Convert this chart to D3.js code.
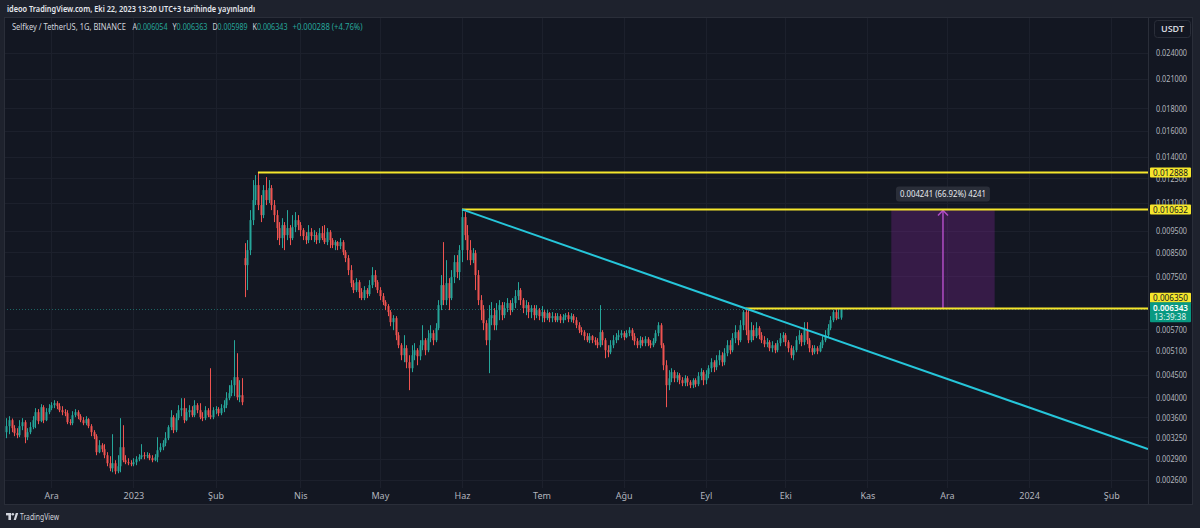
<!DOCTYPE html>
<html><head><meta charset="utf-8">
<script src="https://cdn.jsdelivr.net/npm/d3@7"></script>
<style>
html,body{margin:0;padding:0;background:#1e222d;}
svg{display:block;font-family:"Noto Sans",Roboto,"DejaVu Sans",sans-serif;}
</style></head>
<body><svg id="chart" width="1200" height="528"></svg>
<script>
// ---------------- DATA (prices in micro-USDT, i.e. ×1e-6 USDT) ----------------
const startDate = "2022-11-14";      // first daily bar
const gapIndex = 90;                 // first bar after the missing stretch
const gapResumeDate = "2023-03-11";  // date of bar gapIndex
const firstOpen = 3335;
const gapOpen = 8250;

const closes = [
3441,3550,3405,3318,3283,3441,3513,3249,3335,3423,
3550,3701,3532,3798,3550,3701,3779,3838,3878,3818,
3739,3701,3681,3513,3495,3643,3701,3624,3550,3495,
3568,3441,3335,3266,3005,3116,3052,2958,2837,2764,
2837,2721,2793,3084,2882,2852,2837,2823,2852,2897,
2927,2958,2943,2958,2912,2882,2927,3036,3084,3149,
3232,3423,3606,3370,3587,3739,3779,3550,3701,3739,
3643,3838,3739,3606,3587,3739,3643,3606,3739,3759,
3681,3779,3838,3980,4086,4259,4441,4001,4043,3898,
7956,8602,10056,11162,12068,10875,10322,11757,11162,11880,
10875,10322,9647,9157,9799,9300,9647,9157,9697,10056,
9799,9545,9252,9062,9447,9252,9300,9062,9398,9157,
8969,9447,9062,8829,8969,8784,8969,8513,8251,7752,
7245,6986,7282,6914,6701,6986,6842,7169,7553,7282,
6986,6771,6563,6428,6230,5912,6037,5525,5244,4978,
5163,4800,4652,4978,5109,4952,5244,5383,5109,5440,
5584,5383,5730,6461,7169,6631,7245,6701,7475,8081,
7673,8602,10216,9300,8602,8165,8469,7553,6631,6295,
5882,5383,6037,6132,5820,6295,6461,6132,6361,6529,
6295,6529,6771,6986,6631,6361,6461,6230,6361,6132,
6295,6100,6230,6037,6197,6037,6100,5974,6100,5974,
6068,6132,6005,6100,5974,5820,5671,5613,5496,5383,
5496,5383,5327,5244,5613,5383,5109,5056,5244,5383,
5468,5525,5584,5468,5584,5671,5496,5355,5244,5383,
5300,5411,5300,5244,5355,5584,5820,5244,4725,4259,
4415,4558,4415,4487,4371,4304,4415,4326,4259,4371,
4281,4464,4558,4371,4510,4652,4800,4677,4850,4978,
4800,5030,5244,5109,5440,5613,5383,5820,6230,5671,
5383,5671,5496,5730,5525,5383,5272,5327,5163,5244,
5109,5300,5440,5525,5327,5163,4978,5109,5383,5525,
5327,5671,5383,5163,5056,5163,5083,5244,5383,5525,
5730,5974,6230,6037,6054,6343];

const highs = [
3587,3624,3580,3458,3405,3550,3587,3550,3405,3513,
3624,3779,3760,3858,3838,3779,3858,3898,3939,3919,
3878,3818,3759,3739,3568,3720,3759,3739,3662,3606,
3624,3587,3477,3370,3300,3199,3149,3133,3005,2943,
3300,2882,2958,3587,3458,2958,2912,2882,2912,2943,
2974,3133,3005,3005,2989,2958,2974,3249,3149,3199,
3335,3458,3739,3643,3681,3838,3980,3980,3779,3838,
3818,3939,3878,3878,3701,3818,3779,4652,3798,3818,
3798,3858,3939,4107,4259,4371,5383,5030,4371,4418,
8920,9062,10594,12387,12712,12888,11455,12068,12580,12387,
12068,11162,10594,9953,10160,9953,10594,9799,10322,10485,
10322,9953,9647,9447,9799,9647,9545,9447,9647,9748,
9799,9647,9545,9157,9062,9015,9157,9062,8602,8381,
7956,7358,7434,7358,7058,7131,7058,7358,7874,7752,
7358,7093,6878,6631,6495,6295,6132,6100,5613,5300,
5525,5244,4978,5244,5300,5163,5383,5820,5440,5671,
5820,5671,5882,6631,7553,8968,8165,7434,7752,8381,
8381,8829,10632,10485,9799,9062,8693,8602,7752,6806,
6461,5974,6461,6563,6361,6529,6631,6563,6563,6701,
6631,6701,6986,7282,7058,6701,6631,6563,6461,6461,
6461,6361,6428,6295,6295,6230,6230,6197,6197,6165,
6165,6197,6230,6197,6165,6068,5912,5760,5671,5584,
5584,5525,5468,5440,6461,5671,5440,5244,5383,5525,
5584,5671,5671,5642,5671,5760,5730,5584,5440,5496,
5468,5496,5468,5383,5440,5671,5912,5882,5300,4850,
4605,4652,4605,4558,4534,4441,4487,4464,4371,4415,
4415,4558,4652,4605,4605,4725,4900,4850,4978,5109,
5056,5163,5383,5383,5584,5820,5671,5974,6295,6350,
6295,5912,5820,5912,5790,5613,5496,5440,5383,5355,
5300,5383,5584,5613,5584,5383,5244,5217,5496,5671,
5584,5912,5912,5440,5244,5244,5217,5327,5496,5671,
5851,6100,6295,6328,6328,6363];

const lows = [
3232,3300,3335,3266,3232,3249,3370,3149,3199,3300,
3387,3405,3477,3513,3495,3532,3662,3739,3779,3759,
3701,3643,3624,3477,3458,3458,3606,3568,3513,3458,
3458,3405,3266,3216,2958,2989,3005,2912,2793,2721,
2707,2679,2693,2707,2852,2823,2808,2793,2793,2808,
2867,2897,2897,2912,2882,2852,2867,2852,3005,3036,
3100,3199,3370,3318,3335,3550,3624,3495,3532,3606,
3606,3606,3681,3568,3532,3550,3606,3568,3568,3662,
3624,3643,3701,3779,3939,4022,4022,3939,3898,3838,
6735,6986,8381,9799,10875,10594,9953,10160,10875,10990,
10594,9953,9062,8829,8693,8602,9062,8829,9062,9447,
9545,9252,9062,8876,8922,9062,8969,8876,8922,9062,
8876,8829,8693,8693,8602,8602,8647,8381,8081,7553,
7093,6878,6914,6701,6631,6631,6701,6771,7058,7093,
6878,6631,6461,6295,6100,5790,5671,5383,5163,4850,
4800,4652,4150,4558,4850,4725,4850,5109,4978,5056,
5327,5244,5327,5671,6295,6461,6461,6295,6631,7245,
7434,7358,8081,9062,8165,7956,8039,6986,6461,5974,
5671,5244,4534,5820,5671,5671,5974,5974,6037,6230,
6132,6230,6361,6631,6461,6197,6132,6037,6037,5974,
6037,5974,5912,5912,5974,5912,5912,5912,5912,5882,
5882,5974,5912,5912,5882,5730,5584,5525,5383,5327,
5300,5300,5244,5163,5190,5244,4900,4926,5004,5163,
5300,5383,5440,5383,5440,5496,5383,5244,5163,5163,
5217,5217,5217,5163,5190,5300,5496,5163,4605,3798,
4150,4326,4326,4326,4281,4237,4237,4237,4194,4194,
4215,4237,4371,4259,4281,4415,4558,4558,4605,4725,
4700,4725,4952,5004,5056,5300,5244,5327,5671,5525,
5300,5327,5383,5440,5411,5300,5190,5190,5083,5056,
5030,5056,5217,5327,5217,5056,4900,4850,5056,5272,
5217,5244,5272,5056,4978,5004,5004,5056,5163,5327,
5468,5671,5912,5974,6005,5989];

// price scale ticks and time-axis labels
const priceTicks = [0.024,0.021,0.018,0.016,0.014,0.0125,0.011,0.0095,0.0085,0.0075,0.0057,0.0051,0.0045,0.004,0.0036,0.00325,0.0029,0.0026];
const tickLabels = ["Ara","2023","Şub","Nis","May","Haz","Tem","Ağu","Eyl","Eki","Kas","Ara","2024","Şub"];
const tickDates  = ["2022-12-01","2023-01-01","2023-02-01","2023-04-01","2023-05-01","2023-06-01","2023-07-01","2023-08-01","2023-09-01","2023-10-01","2023-11-01","2023-12-01","2024-01-01","2024-02-01"];

// drawings
const levelPrices = [0.012888, 0.010632, 0.006350];
const levelStartBars = [95, 172, 279];
const trendBars = [172, 279];
const trendPrices = [0.010632, 0.006350];
const rangeBars = [334, 373];
const rangePrices = [0.006350, 0.010632];
const rangeLabel = "0.004241 (66.92%) 4241";
const lastPrice = 0.006343;
const lastTime = "13:39:38";

const headerText = "ideoo TradingView.com, Eki 22, 2023 13:20 UTC+3 tarihinde yayınlandı";
const symbolText = "Selfkey / TetherUS, 1G, BINANCE";
const ohlcLabels = ["A","Y","D","K"];
const ohlcValues = ["0.006054","0.006363","0.005989","0.006343"];
const changeText = "+0.000288 (+4.76%)";

// ---------------- BUILD ----------------
const opens = closes.map((c,i)=> i===0 ? firstOpen : (i===gapIndex ? gapOpen : closes[i-1]));
const bars = closes.map((c,i)=>({i, o:opens[i]*1e-6, h:highs[i]*1e-6, l:lows[i]*1e-6, c:c*1e-6}));

const DAY = 864e5;
const t0 = Date.parse(startDate+"T00:00:00Z");
const tg = Date.parse(gapResumeDate+"T00:00:00Z");
const gapDays = Math.round((tg - t0)/DAY) - gapIndex;
function barOfDate(s){ const t = Date.parse(s+"T00:00:00Z"); let d = Math.round((t-t0)/DAY); if(t>=tg) d -= gapDays; return d; }

const W=1200, H=528;
const plot = {l:4, r:1148, t:17, b:488};
const x = d3.scaleLinear().domain([0,400]).range([6.2, 6.2+2.65*400]);
const y = d3.scaleLog().domain([0.0026,0.024]).range([480,53]);

const UP="#26a69a", DN="#ef5350", TXT="#b2b5be", YEL="#f5e62c";
const svg = d3.select("#chart");

svg.append("rect").attr("width",W).attr("height",H).attr("fill","#1e222d");
svg.append("rect").attr("x",4.5).attr("y",17.5).attr("width",1188).attr("height",487)
  .attr("fill","#131722").attr("stroke","#2a2e39");

svg.append("defs").append("clipPath").attr("id","clip")
  .append("rect").attr("x",plot.l+1).attr("y",plot.t+1).attr("width",plot.r-plot.l-1).attr("height",plot.b-plot.t-1);

// grid
const tickIdx = tickDates.map(barOfDate);
const grid = svg.append("g").attr("clip-path","url(#clip)");
grid.selectAll("line.v").data(tickIdx).join("line")
  .attr("x1",d=>Math.round(x(d))+0.5).attr("x2",d=>Math.round(x(d))+0.5).attr("y1",plot.t).attr("y2",plot.b)
  .attr("stroke","#1c202c").attr("stroke-width",1);
grid.selectAll("line.h").data(priceTicks).join("line")
  .attr("x1",plot.l).attr("x2",plot.r).attr("y1",d=>Math.round(y(d))+0.5).attr("y2",d=>Math.round(y(d))+0.5)
  .attr("stroke","#1c202c").attr("stroke-width",1);

// separators
svg.append("line").attr("x1",1148.5).attr("x2",1148.5).attr("y1",17).attr("y2",504).attr("stroke","#2a2e39");

const main = svg.append("g").attr("clip-path","url(#clip)");

// last price dotted line
main.append("line").attr("x1",plot.l).attr("x2",plot.r)
  .attr("y1",Math.round(y(lastPrice))+0.5).attr("y2",Math.round(y(lastPrice))+0.5)
  .attr("stroke",UP).attr("stroke-opacity",0.55).attr("stroke-dasharray","1,2");

// range (price-range measurement)
const rx0=x(rangeBars[0]), rx1=x(rangeBars[1]);
const ry0=y(rangePrices[1]), ry1=y(rangePrices[0]);
main.append("rect").attr("x",rx0).attr("y",ry0).attr("width",rx1-rx0).attr("height",ry1-ry0)
  .attr("fill","#9c27b0").attr("fill-opacity",0.26);
const ax=(rx0+rx1)/2;
main.append("line").attr("x1",ax).attr("x2",ax).attr("y1",ry1).attr("y2",ry0+1)
  .attr("stroke","#b04cc4").attr("stroke-width",1.5);
main.append("path").attr("d",`M${ax-5},${ry0+6}L${ax},${ry0+1}L${ax+5},${ry0+6}`)
  .attr("fill","none").attr("stroke","#b04cc4").attr("stroke-width",1.5);

// candles
const cg = main.append("g");
const cand = cg.selectAll("g").data(bars).join("g");
cand.append("line")
  .attr("x1",d=>Math.round(x(d.i))+0.5).attr("x2",d=>Math.round(x(d.i))+0.5)
  .attr("y1",d=>y(d.h)).attr("y2",d=>y(d.l))
  .attr("stroke",d=>d.c>=d.o?UP:DN).attr("stroke-width",1);
cand.append("rect")
  .attr("x",d=>Math.round(x(d.i))-0.5).attr("width",2)
  .attr("y",d=>y(Math.max(d.o,d.c))).attr("height",d=>Math.max(1,y(Math.min(d.o,d.c))-y(Math.max(d.o,d.c))))
  .attr("fill",d=>d.c>=d.o?UP:DN);

// horizontal levels
levelPrices.forEach((p,k)=>{
  main.append("line").attr("x1",x(levelStartBars[k])).attr("x2",plot.r)
    .attr("y1",y(p)).attr("y2",y(p)).attr("stroke",YEL).attr("stroke-width",2);
});

// trend line (extended to right edge)
{
  const xa=x(trendBars[0]), ya=y(trendPrices[0]), xb=x(trendBars[1]), yb=y(trendPrices[1]);
  const s=(yb-ya)/(xb-xa);
  main.append("line").attr("x1",xa).attr("y1",ya).attr("x2",plot.r).attr("y2",ya+s*(plot.r-xa))
    .attr("stroke","#26c6da").attr("stroke-width",2);
}

// range label
{
  const lw=94, lh=15;
  svg.append("rect").attr("x",ax-lw/2).attr("y",ry0-23).attr("width",lw).attr("height",lh).attr("rx",3)
    .attr("fill","#2a2e39");
  svg.append("text").attr("x",ax).attr("y",ry0-12.5).attr("text-anchor","middle")
    .attr("font-size",9).attr("fill","#e8eaef").attr("textLength",86).attr("lengthAdjust","spacingAndGlyphs")
    .text(rangeLabel);
}

// price axis
const yAxis = d3.axisRight(y).tickValues(priceTicks).tickFormat(d3.format(".6f")).tickSize(0).tickPadding(0);
const yg = svg.append("g").attr("transform","translate(1156,0)").call(yAxis);
yg.select(".domain").remove();
yg.selectAll("text").attr("fill",TXT).attr("font-size",9).attr("font-family","Noto Sans, sans-serif")
  .attr("textLength",31).attr("lengthAdjust","spacingAndGlyphs");

// time axis
const xAxis = d3.axisBottom(x).tickValues(tickIdx).tickFormat((d,i)=>tickLabels[i]).tickSize(0).tickPadding(0);
const xg = svg.append("g").attr("transform","translate(0,493)").call(xAxis);
xg.select(".domain").remove();
xg.selectAll("text").attr("fill",TXT).attr("font-size",9).attr("font-family","Noto Sans, sans-serif");

// badges on price scale (label centres; the 0.006350 one sits just above the last-price badge)
const badgeY = [y(levelPrices[0]), y(levelPrices[1]), y(lastPrice)-11];
levelPrices.forEach((p,k)=>{
  const yy=badgeY[k];
  svg.append("rect").attr("x",1150).attr("y",yy-5).attr("width",41).attr("height",10).attr("fill",YEL).attr("rx",1);
  svg.append("text").attr("x",1153).attr("y",yy+3.3).attr("font-size",9).attr("fill","#131722")
    .attr("textLength",35).attr("lengthAdjust","spacingAndGlyphs").text(d3.format(".6f")(p));
});
{
  const yy=y(lastPrice);
  svg.append("rect").attr("x",1150).attr("y",yy-6.5).attr("width",41).attr("height",20).attr("fill","#089981").attr("rx",1);
  svg.append("text").attr("x",1153).attr("y",yy+2.3).attr("font-size",8.5).attr("font-weight",600).attr("fill","#ffffff")
    .attr("textLength",35).attr("lengthAdjust","spacingAndGlyphs").text(d3.format(".6f")(lastPrice));
  svg.append("text").attr("x",1154).attr("y",yy+11.3).attr("font-size",8.5).attr("fill","#e0f2ef")
    .attr("textLength",32).attr("lengthAdjust","spacingAndGlyphs").text(lastTime);
}

// USDT box
svg.append("rect").attr("x",1154.5).attr("y",20.5).attr("width",36).attr("height",17).attr("rx",3)
  .attr("fill","#131722").attr("stroke","#2a2e39");
svg.append("text").attr("x",1172.5).attr("y",32).attr("text-anchor","middle").attr("font-size",9)
  .attr("font-weight",600).attr("fill","#d1d4dc").text("USDT");

// header
svg.append("text").attr("x",7).attr("y",12).attr("font-size",9.5).attr("font-weight",600).attr("fill","#e6e8ee")
  .attr("textLength",248).attr("lengthAdjust","spacingAndGlyphs").text(headerText);

// legend (each label + value pair is one text element)
{
  const ly=29.5, fs=8.5;
  svg.append("text").attr("x",12).attr("y",ly).attr("font-size",fs).attr("fill","#d1d4dc")
    .attr("textLength",114).attr("lengthAdjust","spacingAndGlyphs").text(symbolText);
  const lx=[132.5,172.5,212.5,252.5];
  ohlcLabels.forEach((l,k)=>{
    const t = svg.append("text").attr("x",lx[k]).attr("y",ly).attr("font-size",fs)
      .attr("textLength",35).attr("lengthAdjust","spacingAndGlyphs");
    t.append("tspan").attr("fill","#d1d4dc").text(l);
    t.append("tspan").attr("fill",UP).text(ohlcValues[k]);
  });
  svg.append("text").attr("x",292.5).attr("y",ly).attr("font-size",fs).attr("fill",UP)
    .attr("textLength",70).attr("lengthAdjust","spacingAndGlyphs").text(changeText);
}

// footer logo
{
  const g=svg.append("g").attr("fill","#d1d4dc");
  g.append("rect").attr("x",6).attr("y",513).attr("width",5).attr("height",2.4);
  g.append("rect").attr("x",8.4).attr("y",513).attr("width",2.6).attr("height",7);
  g.append("circle").attr("cx",12.8).attr("cy",514.3).attr("r",1.3);
  g.append("path").attr("d","M13.6,520 L15.8,513 L18.2,513 L15.9,520 Z");
  svg.append("text").attr("x",20).attr("y",520).attr("font-size",9.5).attr("fill","#d1d4dc")
    .attr("textLength",39).attr("lengthAdjust","spacingAndGlyphs").text("TradingView");
}
</script></body></html>
